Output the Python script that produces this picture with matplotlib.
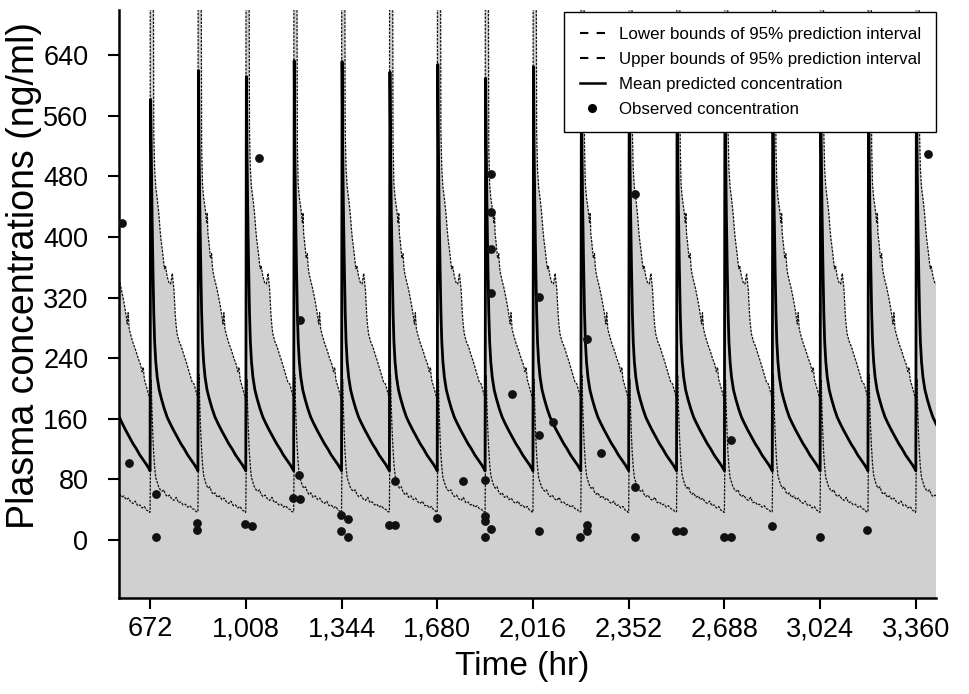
import matplotlib
matplotlib.use('Agg')
import matplotlib.pyplot as plt
from matplotlib.lines import Line2D
from matplotlib.font_manager import FontProperties
from matplotlib.ticker import FuncFormatter
import numpy as np

font = ['Liberation Sans', 'DejaVu Sans']

# dosing times (hr); 504 is the dose just before the plotted window
dose_times = [504, 672, 840, 1008, 1176, 1344, 1512, 1680, 1848, 2016,
              2184, 2352, 2520, 2688, 2856, 3024, 3192, 3360]
mean_peaks = [600, 582, 620, 612, 633, 632, 618, 628, 610, 625,
              615, 630, 622, 612, 628, 620, 618, 625]

# one dosing interval (hours after dose -> ng/ml)
dt_mean = [0, 1, 2, 4, 7, 10, 13, 16, 20, 25, 32, 40, 50, 60, 70, 82,
           95, 108, 120, 132, 145, 156, 164, 167]
mean_shape = [91, 380, 600, 520, 430, 360, 300, 262, 235, 215, 198, 186,
              173, 162, 154, 145, 136, 127, 120, 112, 105, 99, 94, 92]

dt_upper = [0, 1, 3, 6, 10, 13, 16, 20, 26, 31, 33, 35, 38, 44, 48, 51, 54,
            60, 66, 72, 78, 84, 88, 91, 95, 102, 110, 118, 126, 134, 140,
            144, 148, 154, 160, 164, 167]
upper_a = [188, 900, 1500, 1200, 1000, 520, 470, 452, 436, 418, 432, 405,
           395, 372, 378, 360, 352, 342, 333, 322, 310, 296, 285, 300, 278,
           268, 258, 250, 240, 232, 222, 228, 212, 204, 196, 190, 186]
upper_b = [192, 900, 1500, 1200, 1000, 540, 490, 466, 448, 430, 420, 410,
           398, 380, 366, 358, 362, 348, 340, 338, 352, 330, 300, 285, 272,
           262, 255, 245, 236, 226, 218, 214, 208, 206, 198, 192, 190]

dt_lower = [0, 2, 4, 6, 9, 12, 16, 20, 25, 30, 36, 42, 48, 54, 60, 68, 76,
            84, 92, 100, 108, 116, 124, 132, 140, 148, 156, 162, 167]
lower_a = [37, 130, 218, 185, 150, 125, 100, 85, 78, 72, 68, 70, 63, 60,
           62, 56, 58, 53, 55, 50, 48, 51, 45, 46, 42, 44, 39, 38, 36]
lower_b = [38, 125, 212, 180, 145, 118, 96, 82, 76, 70, 66, 64, 66, 60, 57,
           59, 54, 52, 56, 49, 50, 46, 47, 43, 45, 41, 40, 37, 37]

# observed concentrations
obs_time = [574, 598, 694, 694, 838, 838, 1005, 1030, 1055, 1173, 1196,
            1198, 1198, 1341, 1341, 1367, 1367, 1509, 1533, 1533, 1679,
            1772, 1846, 1846, 1846, 1846, 1870, 1870, 1870, 1870, 1870,
            1942, 2039, 2039, 2039, 2086, 2182, 2205, 2205, 2206, 2254,
            2374, 2374, 2374, 2518, 2542, 2686, 2710, 2712, 2855, 3022,
            3190, 3404]
obs_conc = [418, 101, 61, 4, 22, 13, 21, 18, 504, 55, 86,
            54, 290, 33, 12, 27, 4, 19, 20, 77, 29,
            77, 79, 31, 25, 4, 14, 483, 433, 384, 326,
            192, 321, 138, 12, 156, 4, 20, 12, 265, 114,
            457, 70, 4, 12, 12, 4, 132, 4, 18, 4,
            13, 510]

x_ticks = [672, 1008, 1344, 1680, 2016, 2352, 2688, 3024, 3360]
y_ticks = [0, 80, 160, 240, 320, 400, 480, 560, 640]
y_bottom = -77


def tile(dts, shapes, peaks=None, peak_idx=None):
    ts, cs = [], []
    for k, d in enumerate(dose_times):
        c = list(shapes[k % len(shapes)])
        if peaks is not None:
            c[peak_idx] = peaks[k]
        ts += [d + x for x in dts]
        cs += c
    return np.array(ts), np.array(cs)


tm, mean = tile(dt_mean, [mean_shape], mean_peaks, 2)
tu, upper = tile(dt_upper, [upper_a, upper_b])
tl, lower = tile(dt_lower, [lower_a, lower_b])

fig = plt.figure(figsize=(9.7, 6.94), dpi=100)
ax = fig.add_axes([0.1227, 0.1383, 0.8423, 0.8473])

ax.fill_between(tu, y_bottom, upper, color='#d0d0d0', lw=0, zorder=1)
ax.plot(tu, upper, color='#111111', lw=0.9, ls=(0, (2, 1)), zorder=2)
ax.plot(tl, lower, color='#111111', lw=0.9, ls=(0, (2, 1)), zorder=2)
ax.plot(tm, mean, color='black', lw=2.0, zorder=3)
ax.scatter(obs_time, obs_conc, s=40, color='#111111', zorder=4, lw=0)

ax.set_xlim(563, 3431)
ax.set_ylim(y_bottom, 700)
ax.set_xticks(x_ticks)
ax.set_yticks(y_ticks)
ax.xaxis.set_major_formatter(FuncFormatter(lambda v, p: '{:,}'.format(int(v))))

for s in ['top', 'right']:
    ax.spines[s].set_visible(False)
for s in ['left', 'bottom']:
    ax.spines[s].set_linewidth(1.8)

ax.tick_params(direction='out', length=8, width=1.5)
ax.tick_params(axis='x', pad=5)
ax.tick_params(axis='y', pad=14)
for lab in ax.get_xticklabels() + ax.get_yticklabels():
    lab.set_fontfamily(font)
    lab.set_fontsize(19.5)

ax.set_xlabel('Time (hr)', family=font, fontsize=24)
ax.set_ylabel('Plasma concentrations (ng/ml)', family=font, fontsize=27)
ax.xaxis.set_label_coords(0.493, -0.09)
ax.yaxis.set_label_coords(-0.094, 0.549)

handles = [
    Line2D([], [], color='black', lw=1.5, ls=(0, (4, 4))),
    Line2D([], [], color='black', lw=1.5, ls=(0, (4, 4))),
    Line2D([], [], color='black', lw=1.8),
    Line2D([], [], color='black', marker='o', ls='none', markersize=5.5),
]
labels = ['Lower bounds of 95% prediction interval',
          'Upper bounds of 95% prediction interval',
          'Mean predicted concentration',
          'Observed concentration']
leg = ax.legend(handles, labels, loc='upper right',
                bbox_to_anchor=(1.0, 1 - 2 / 588), borderaxespad=0,
                frameon=True, fancybox=False, edgecolor='black',
                framealpha=1, borderpad=0.9, labelspacing=0.58,
                handlelength=1.5, handletextpad=0.8,
                prop=FontProperties(family=font, size=12.2))
leg.get_frame().set_linewidth(1.0)
leg.set_zorder(10)

fig.savefig('out.png', dpi=100)
